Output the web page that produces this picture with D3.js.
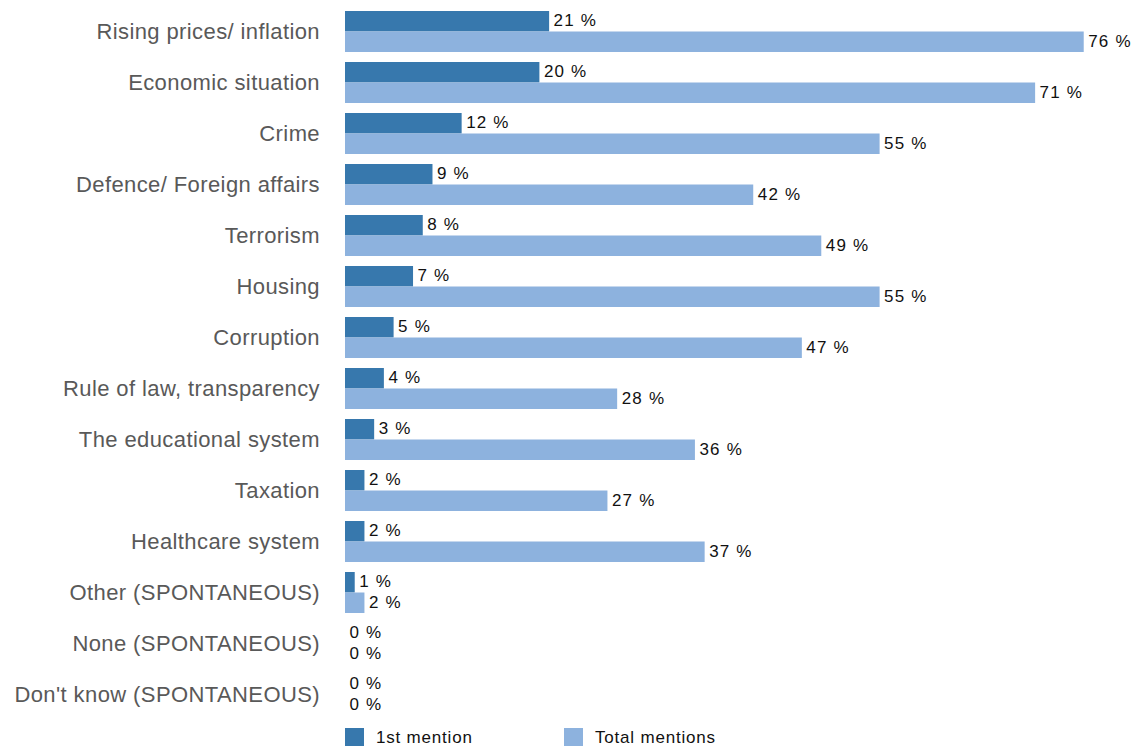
<!DOCTYPE html>
<html>
<head>
<meta charset="utf-8">
<script src="https://cdn.jsdelivr.net/npm/d3@7"></script>
<style>
  html, body { margin: 0; padding: 0; background: #fff; }
  svg text { font-family: "Liberation Sans", Arial, Helvetica, sans-serif; }
</style>
</head>
<body>
<svg id="chart" width="1142" height="746"></svg>
<script>
// Most important issues facing the country
const categories = [
  "Rising prices/ inflation",
  "Economic situation",
  "Crime",
  "Defence/ Foreign affairs",
  "Terrorism",
  "Housing",
  "Corruption",
  "Rule of law, transparency",
  "The educational system",
  "Taxation",
  "Healthcare system",
  "Other (SPONTANEOUS)",
  "None (SPONTANEOUS)",
  "Don't know (SPONTANEOUS)"
];
const firstMention = [21, 20, 12, 9, 8, 7, 5, 4, 3, 2, 2, 1, 0, 0];
const totalMentions = [76, 71, 55, 42, 49, 55, 47, 28, 36, 27, 37, 2, 0, 0];
const seriesNames = ["1st mention", "Total mentions"];
const seriesColors = ["#3778ad", "#8db2de"];

const svg = d3.select("#chart");

const x = d3.scaleLinear().domain([0, 100]).range([345, 1317]);
const y = d3.scaleBand().domain(categories).range([11, 715]).paddingInner(10 / 51).paddingOuter(0);
const sub = d3.scaleBand().domain([0, 1]).range([0, y.bandwidth()]);

const series = [firstMention, totalMentions];

// Category labels
svg.append("g").selectAll("text")
  .data(categories)
  .join("text")
  .attr("x", 320)
  .attr("y", d => y(d) + y.bandwidth() / 2)
  .attr("dy", "0.35em")
  .attr("text-anchor", "end")
  .attr("font-size", 22)
  .attr("letter-spacing", "0.4px")
  .attr("fill", "#595959")
  .text(d => d);

// Bars and value labels
series.forEach((vals, si) => {
  const g = svg.append("g");
  g.selectAll("rect")
    .data(categories)
    .join("rect")
    .attr("x", x(0))
    .attr("y", (c) => y(c) + sub(si))
    .attr("width", (c, i) => x(vals[i]) - x(0))
    .attr("height", sub.bandwidth())
    .attr("fill", seriesColors[si]);
  g.selectAll("text")
    .data(categories)
    .join("text")
    .attr("x", (c, i) => x(vals[i]) + 4.5)
    .attr("y", (c) => y(c) + sub(si) + sub.bandwidth() / 2 - 1)
    .attr("dy", "0.35em")
    .attr("font-size", 17)
    .attr("letter-spacing", "1.2px")
    .attr("fill", "#111")
    .text((c, i) => vals[i] + " %");
});

// Legend
const legendX = [345, 564];
const legend = svg.append("g").selectAll("g")
  .data(seriesNames)
  .join("g")
  .attr("transform", (d, i) => `translate(${legendX[i]},728)`);
legend.append("rect")
  .attr("width", 19).attr("height", 18)
  .attr("fill", (d, i) => seriesColors[i]);
legend.append("text")
  .attr("x", 31).attr("y", 9)
  .attr("dy", "0.35em")
  .attr("font-size", 17)
  .attr("letter-spacing", "0.8px")
  .attr("fill", "#111")
  .text(d => d);
</script>
</body>
</html>
